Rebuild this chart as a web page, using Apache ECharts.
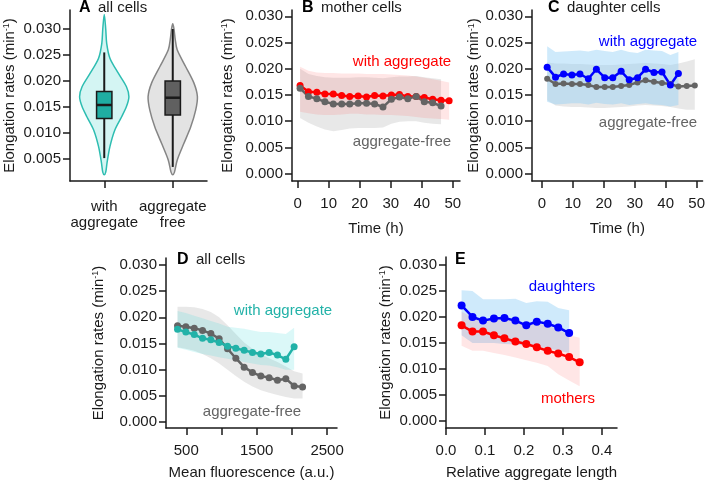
<!DOCTYPE html>
<html>
<head>
<meta charset="utf-8">
<script src="https://cdn.jsdelivr.net/npm/echarts@6/dist/echarts.min.js"></script>
<style>
  html, body { margin: 0; padding: 0; background: #fff; }
  #chart { width: 708px; height: 481px; }
</style>
</head>
<body>
<div id="chart"></div>
<script>
// ---- tick labels ----
const rateTicks = [0, 0.005, 0.01, 0.015, 0.02, 0.025, 0.03];
const violinTicks = [0.005, 0.01, 0.015, 0.02, 0.025, 0.03];
const timeTicks = [0, 10, 20, 30, 40, 50];
const fluoTickMarks = [500, 1000, 1500, 2000, 2500];
const fluoTickLabels = [500, 1500, 2500];
const lengthTicks = [0, 0.1, 0.2, 0.3, 0.4];

// ---- A: violins (all cells) ----
const violinCats = ['with\naggregate', 'aggregate\nfree'];
const violinAggLevels  = [0.0328, 0.0300, 0.0272, 0.0244, 0.0215, 0.0189, 0.0170, 0.0151, 0.0131, 0.0106, 0.0074, 0.0042, 0.0025, 0.0020];
const violinAggDensity = [0, 0.06, 0.10, 0.23, 0.57, 0.90, 1.0, 0.90, 0.70, 0.43, 0.23, 0.11, 0.06, 0];
const violinFreeLevels  = [0.0310, 0.0300, 0.0280, 0.0260, 0.0228, 0.0196, 0.0170, 0.0144, 0.0112, 0.0080, 0.0048, 0.0025, 0.0020];
const violinFreeDensity = [0, 0.05, 0.10, 0.18, 0.52, 0.86, 1.0, 0.93, 0.73, 0.45, 0.18, 0.07, 0];
// min, q1, median, q3, max
const boxAgg  = [0.0052, 0.0128, 0.0154, 0.0180, 0.0255];
const boxFree = [0.0035, 0.0135, 0.0168, 0.0200, 0.0300];

// ---- B: mother cells ----
const motherTime = [0.8, 3.5, 6.2, 8.8, 11.5, 14.2, 16.8, 19.5, 22.2, 24.8, 27.5, 30.2, 32.8, 35.5, 38.2, 40.8, 43.5, 46.2, 48.8];
const motherAgg   = [0.0168, 0.0156, 0.0155, 0.0152, 0.0152, 0.0149, 0.0147, 0.0148, 0.0146, 0.0149, 0.0148, 0.0150, 0.0151, 0.0147, 0.0147, 0.0145, 0.0142, 0.0140, 0.0139];
const motherAggHi = [0.0204, 0.0196, 0.0193, 0.0192, 0.0192, 0.0191, 0.0191, 0.0191, 0.0190, 0.0190, 0.0190, 0.0189, 0.0188, 0.0187, 0.0185, 0.0183, 0.0180, 0.0177, 0.0174];
const motherAggLo = [0.0118, 0.0115, 0.0113, 0.0112, 0.0112, 0.0113, 0.0114, 0.0114, 0.0113, 0.0113, 0.0112, 0.0112, 0.0111, 0.0110, 0.0108, 0.0106, 0.0105, 0.0104, 0.0103];
const motherFree   = [0.0163, 0.0147, 0.0143, 0.0137, 0.0133, 0.0133, 0.0133, 0.0134, 0.0134, 0.0133, 0.0127, 0.0142, 0.0146, 0.0143, 0.0147, 0.0137, 0.0135, 0.0129];
const motherFreeHi = [0.0200, 0.0190, 0.0186, 0.0184, 0.0183, 0.0183, 0.0183, 0.0184, 0.0184, 0.0183, 0.0182, 0.0184, 0.0185, 0.0185, 0.0186, 0.0184, 0.0182, 0.0180];
const motherFreeLo = [0.0106, 0.0097, 0.0090, 0.0084, 0.0081, 0.0083, 0.0086, 0.0087, 0.0087, 0.0087, 0.0088, 0.0095, 0.0099, 0.0100, 0.0100, 0.0097, 0.0095, 0.0094];

// ---- C: daughter cells ----
const daughterTime = [1.7, 4.4, 7.0, 9.7, 12.3, 15.0, 17.6, 20.3, 22.9, 25.6, 28.2, 30.9, 33.5, 36.2, 38.8, 41.5, 44.1, 46.8, 49.4];
const daughterAgg   = [0.0203, 0.0184, 0.0190, 0.0188, 0.0190, 0.0181, 0.0199, 0.0183, 0.0183, 0.0195, 0.0179, 0.0183, 0.0199, 0.0193, 0.0194, 0.0169, 0.0191];
const daughterAggHi = [0.0243, 0.0232, 0.0233, 0.0234, 0.0235, 0.0233, 0.0236, 0.0234, 0.0232, 0.0236, 0.0232, 0.0230, 0.0236, 0.0235, 0.0234, 0.0226, 0.0232];
const daughterAggLo = [0.0137, 0.0132, 0.0133, 0.0134, 0.0134, 0.0132, 0.0135, 0.0133, 0.0132, 0.0134, 0.0131, 0.0133, 0.0134, 0.0132, 0.0131, 0.0128, 0.0131];
const daughterFree   = [0.0181, 0.0171, 0.0172, 0.0171, 0.0171, 0.0169, 0.0165, 0.0165, 0.0165, 0.0167, 0.0169, 0.0174, 0.0178, 0.0175, 0.0173, 0.0171, 0.0166, 0.0167, 0.0168];
const daughterFreeHi = [0.0212, 0.0210, 0.0210, 0.0209, 0.0209, 0.0208, 0.0207, 0.0207, 0.0207, 0.0208, 0.0209, 0.0210, 0.0211, 0.0210, 0.0209, 0.0207, 0.0210, 0.0214, 0.0218];
const daughterFreeLo = [0.0140, 0.0130, 0.0128, 0.0127, 0.0127, 0.0126, 0.0125, 0.0125, 0.0126, 0.0127, 0.0128, 0.0130, 0.0131, 0.0130, 0.0129, 0.0127, 0.0124, 0.0122, 0.0122];

// ---- D: all cells vs fluorescence ----
const fluo = [376, 494, 613, 731, 849, 967, 1086, 1204, 1322, 1440, 1559, 1677, 1795, 1914, 2032, 2152];
const fluoAgg   = [0.0177, 0.0172, 0.0167, 0.0160, 0.0157, 0.0152, 0.0145, 0.0141, 0.0137, 0.0133, 0.0130, 0.0133, 0.0128, 0.0120, 0.0144];
const fluoAggHi = [0.0212, 0.0208, 0.0203, 0.0198, 0.0193, 0.0188, 0.0182, 0.0180, 0.0178, 0.0175, 0.0172, 0.0172, 0.0170, 0.0168, 0.0180];
const fluoAggLo = [0.0142, 0.0138, 0.0134, 0.0130, 0.0127, 0.0124, 0.0121, 0.0118, 0.0115, 0.0112, 0.0109, 0.0108, 0.0105, 0.0100, 0.0100];
const fluoFree   = [0.0184, 0.0182, 0.0179, 0.0175, 0.0169, 0.0159, 0.0140, 0.0122, 0.0105, 0.0095, 0.0088, 0.0085, 0.0080, 0.0083, 0.0069, 0.0067];
const fluoFreeHi = [0.0220, 0.0220, 0.0219, 0.0216, 0.0210, 0.0200, 0.0185, 0.0168, 0.0152, 0.0140, 0.0130, 0.0122, 0.0115, 0.0106, 0.0097, 0.0093];
const fluoFreeLo = [0.0143, 0.0140, 0.0136, 0.0130, 0.0122, 0.0112, 0.0100, 0.0088, 0.0077, 0.0068, 0.0061, 0.0056, 0.0052, 0.0048, 0.0045, 0.0045];

// ---- E: relative aggregate length ----
const relLen = [0.040, 0.068, 0.095, 0.123, 0.150, 0.178, 0.206, 0.233, 0.261, 0.288, 0.316, 0.343];
const lenDaughters   = [0.0222, 0.0200, 0.0193, 0.0197, 0.0198, 0.0193, 0.0184, 0.0191, 0.0187, 0.0180, 0.0169];
const lenDaughtersHi = [0.0251, 0.0250, 0.0234, 0.0234, 0.0234, 0.0235, 0.0227, 0.0230, 0.0229, 0.0217, 0.0213];
const lenDaughtersLo = [0.0165, 0.0150, 0.0150, 0.0150, 0.0148, 0.0147, 0.0145, 0.0143, 0.0140, 0.0135, 0.0131];
const lenMothers   = [0.0184, 0.0172, 0.0172, 0.0165, 0.0159, 0.0153, 0.0148, 0.0142, 0.0135, 0.0130, 0.0123, 0.0113];
const lenMothersHi = [0.0210, 0.0200, 0.0195, 0.0196, 0.0196, 0.0192, 0.0186, 0.0188, 0.0183, 0.0176, 0.0165, 0.0160];
const lenMothersLo = [0.0145, 0.0135, 0.0135, 0.0131, 0.0127, 0.0122, 0.0117, 0.0112, 0.0106, 0.0090, 0.0078, 0.0067];

const FONT = "'Liberation Sans', Arial, sans-serif";
const INK = '#1a1a1a';
const RED = '#ff0000', BLUE = '#0000ff', GRAY = '#646464', TEAL = '#22b2a8';
const GRAY_BAND = 'rgba(140,140,140,0.2)';
const PINK_BAND = 'rgba(255,60,60,0.13)';
const SKY_BAND = 'rgba(140,205,245,0.42)';
const CYAN_BAND = 'rgba(40,215,215,0.17)';

const chart = echarts.init(document.getElementById('chart'), null, {renderer: 'canvas'});

const pairs = (xs, ys) => ys.map((y, i) => [xs[i], y]);

function axisBase(idx) {
  return {
    gridIndex: idx,
    axisLine: {show: true, onZero: false, lineStyle: {color: INK, width: 1.5}},
    axisTick: {show: true, length: 7, lineStyle: {color: INK, width: 1.5}},
    splitLine: {show: false},
    nameTextStyle: {fontFamily: FONT, fontSize: 15, color: INK},
    axisLabel: {fontFamily: FONT, fontSize: 15, color: INK}
  };
}

function rateAxis(idx, min, max, ticks, gap) {
  const a = axisBase(idx);
  a.type = 'value';
  a.min = min; a.max = max;
  a.name = 'Elongation rates (min{s|-1})';
  a.nameLocation = 'middle';
  a.nameGap = gap;
  a.nameTextStyle.rich = {s: {fontFamily: FONT, fontSize: 9, color: INK, verticalAlign: 'top', padding: [0, 0, 6, 0]}};
  a.axisTick.customValues = ticks;
  a.axisLabel.customValues = ticks;
  a.axisLabel.formatter = v => v.toFixed(3);
  a.axisLabel.margin = 9;
  return a;
}

function valueXAxis(idx, min, max, marks, labels, name, gap, fmt) {
  const a = axisBase(idx);
  a.type = 'value';
  a.min = min; a.max = max;
  a.name = name;
  a.nameLocation = 'middle';
  a.nameGap = gap;
  a.axisTick.customValues = marks;
  a.axisLabel.customValues = labels;
  a.axisLabel.margin = 15;
  a.axisLabel.formatter = fmt || (v => String(v));
  return a;
}

function lineSeries(idx, xs, ys, color, size) {
  return {
    type: 'line', xAxisIndex: idx, yAxisIndex: idx, z: 5,
    data: pairs(xs, ys),
    symbol: 'circle', symbolSize: size || 7, showSymbol: true,
    lineStyle: {color: color, width: 2.5},
    itemStyle: {color: color},
    silent: true
  };
}

function bandSeries(idx, xs, lo, hi, fill) {
  return {
    type: 'custom', xAxisIndex: idx, yAxisIndex: idx, z: 1, silent: true,
    data: lo.map((v, i) => [xs[i], v, hi[i]]),
    renderItem(params, api) {
      if (params.dataIndex !== 0) return;
      const top = hi.map((v, i) => api.coord([xs[i], v]));
      const bot = lo.map((v, i) => api.coord([xs[i], v])).reverse();
      return {type: 'polygon', shape: {points: top.concat(bot)}, style: {fill: fill}};
    }
  };
}

const violinStyles = [
  {levels: violinAggLevels, dens: violinAggDensity, fill: '#d4f5f3', stroke: '#2dbdb1'},
  {levels: violinFreeLevels, dens: violinFreeDensity, fill: '#e3e3e3', stroke: '#858585'}
];
const boxStyles = [{stats: boxAgg, fill: '#1fada2'}, {stats: boxFree, fill: '#606060'}];

const violinSeries = {
  type: 'custom', xAxisIndex: 0, yAxisIndex: 0, z: 2, silent: true,
  data: [[0, 0.017], [1, 0.017]],
  renderItem(params, api) {
    const i = params.dataIndex;
    const v = violinStyles[i];
    const band = api.size([1, 0])[0];
    const right = v.levels.map((lv, k) => {
      const p = api.coord([i, lv]);
      return [p[0] + v.dens[k] * band * 0.36, p[1]];
    });
    const left = [];
    for (let k = v.levels.length - 2; k >= 1; k--) {
      const p = api.coord([i, v.levels[k]]);
      left.push([p[0] - v.dens[k] * band * 0.36, p[1]]);
    }
    return {
      type: 'polygon',
      shape: {points: right.concat(left), smooth: 0.3},
      style: {fill: v.fill, stroke: v.stroke, lineWidth: 1.5}
    };
  }
};

const boxSeries = {
  type: 'custom', xAxisIndex: 0, yAxisIndex: 0, z: 3, silent: true,
  data: [[0].concat(boxAgg), [1].concat(boxFree)],
  renderItem(params, api) {
    const i = params.dataIndex;
    const b = boxStyles[i];
    const band = api.size([1, 0])[0];
    const hw = band * 0.112;
    const pMin = api.coord([i, b.stats[0]]);
    const pQ1 = api.coord([i, b.stats[1]]);
    const pMed = api.coord([i, b.stats[2]]);
    const pQ3 = api.coord([i, b.stats[3]]);
    const pMax = api.coord([i, b.stats[4]]);
    const x = pMed[0];
    return {
      type: 'group',
      children: [
        {type: 'line', shape: {x1: x, y1: pMax[1], x2: x, y2: pQ3[1]}, style: {stroke: INK, lineWidth: 2}},
        {type: 'line', shape: {x1: x, y1: pQ1[1], x2: x, y2: pMin[1]}, style: {stroke: INK, lineWidth: 2}},
        {type: 'rect', shape: {x: x - hw, y: pQ3[1], width: 2 * hw, height: pQ1[1] - pQ3[1]},
          style: {fill: b.fill, stroke: INK, lineWidth: 1.5}},
        {type: 'line', shape: {x1: x - hw, y1: pMed[1], x2: x + hw, y2: pMed[1]}, style: {stroke: INK, lineWidth: 2.5}}
      ]
    };
  }
};

const xA = axisBase(0);
xA.type = 'category';
xA.data = violinCats;
xA.axisTick.alignWithLabel = true;
xA.axisLabel.margin = 18;
xA.axisLabel.lineHeight = 16;
xA.axisLabel.interval = 0;

const titles = [
  {b: 'A', t: 'all cells', x: 79, y: 8},
  {b: 'B', t: 'mother cells', x: 302, y: 8},
  {b: 'C', t: 'daughter cells', x: 548, y: 8},
  {b: 'D', t: 'all cells', x: 177, y: 260},
  {b: 'E', t: '', x: 455, y: 260}
];
const notes = [
  {t: 'with aggregate', x: 402, y: 62, c: RED},
  {t: 'aggregate-free', x: 402, y: 142, c: GRAY},
  {t: 'with aggregate', x: 648, y: 42, c: BLUE},
  {t: 'aggregate-free', x: 648, y: 123, c: GRAY},
  {t: 'with aggregate', x: 283, y: 311, c: TEAL},
  {t: 'aggregate-free', x: 252, y: 412, c: GRAY},
  {t: 'daughters', x: 562, y: 287, c: BLUE},
  {t: 'mothers', x: 568, y: 399, c: RED}
];

const graphic = [];
titles.forEach(t => {
  graphic.push({type: 'text', x: t.x, y: t.y, silent: true,
    style: {text: t.b, fill: '#000', fontFamily: FONT, fontSize: 16, fontWeight: 'bold', align: 'left', verticalAlign: 'middle'}});
  if (t.t) graphic.push({type: 'text', x: t.x + 19, y: t.y, silent: true,
    style: {text: t.t, fill: INK, fontFamily: FONT, fontSize: 15, align: 'left', verticalAlign: 'middle'}});
});
notes.forEach(n => graphic.push({type: 'text', x: n.x, y: n.y, silent: true,
  style: {text: n.t, fill: n.c, fontFamily: FONT, fontSize: 15, align: 'center', verticalAlign: 'middle'}}));

chart.setOption({
  animation: false,
  backgroundColor: '#fff',
  grid: [
    {left: 70, top: 10, width: 137, height: 171},
    {left: 292, top: 10, width: 168, height: 171},
    {left: 532, top: 10, width: 173, height: 171},
    {left: 166, top: 258, width: 171, height: 170},
    {left: 446, top: 257, width: 171, height: 172}
  ],
  xAxis: [
    xA,
    valueXAxis(1, -1.8, 52.3, timeTicks, timeTicks, 'Time (h)', 40),
    valueXAxis(2, -3.2, 51.9, timeTicks, timeTicks, 'Time (h)', 40),
    valueXAxis(3, 212, 2641, fluoTickMarks, fluoTickLabels, 'Mean fluorescence (a.u.)', 37),
    valueXAxis(4, 0, 0.4388, lengthTicks, lengthTicks, 'Relative aggregate length', 37, v => v.toFixed(1))
  ],
  yAxis: [
    rateAxis(0, 0.0008, 0.03365, violinTicks, 53),
    rateAxis(1, -0.0014, 0.0312, rateTicks, 57),
    rateAxis(2, -0.0014, 0.0312, rateTicks, 48),
    rateAxis(3, -0.0011, 0.0313, rateTicks, 60),
    rateAxis(4, -0.0013, 0.0315, rateTicks, 53)
  ],
  graphic: graphic,
  series: [
    violinSeries,
    boxSeries,
    bandSeries(1, motherTime, motherFreeLo, motherFreeHi, GRAY_BAND),
    bandSeries(1, motherTime, motherAggLo, motherAggHi, PINK_BAND),
    lineSeries(1, motherTime, motherAgg, RED),
    lineSeries(1, motherTime, motherFree, GRAY),
    bandSeries(2, daughterTime, daughterFreeLo, daughterFreeHi, GRAY_BAND),
    bandSeries(2, daughterTime, daughterAggLo, daughterAggHi, SKY_BAND),
    lineSeries(2, daughterTime, daughterFree, GRAY, 6),
    lineSeries(2, daughterTime, daughterAgg, BLUE),
    bandSeries(3, fluo, fluoFreeLo, fluoFreeHi, GRAY_BAND),
    bandSeries(3, fluo, fluoAggLo, fluoAggHi, CYAN_BAND),
    lineSeries(3, fluo, fluoFree, GRAY),
    lineSeries(3, fluo, fluoAgg, TEAL),
    bandSeries(4, relLen, lenDaughtersLo, lenDaughtersHi, SKY_BAND),
    bandSeries(4, relLen, lenMothersLo, lenMothersHi, PINK_BAND),
    lineSeries(4, relLen, lenDaughters, BLUE, 8),
    lineSeries(4, relLen, lenMothers, RED, 8)
  ]
});
</script>
</body>
</html>
